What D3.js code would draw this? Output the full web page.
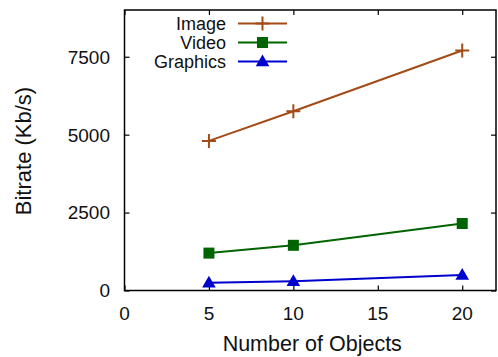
<!DOCTYPE html>
<html>
<head>
<meta charset="utf-8">
<script src="https://cdn.jsdelivr.net/npm/d3@7"></script>
<style>
  html, body { margin: 0; padding: 0; background: #fff; }
  svg { display: block; font-family: "Liberation Sans", Arial, sans-serif; }
</style>
</head>
<body>
<svg id="chart" width="498" height="357"></svg>
<script>
// Bitrate by number of objects, one series per content type
const objects = [5, 10, 20];
const imageRate = [4800, 5750, 7700];
const videoRate = [1200, 1450, 2150];
const graphicsRate = [250, 300, 500];
const xTicks = [0, 5, 10, 15, 20];
const yTicks = [0, 2500, 5000, 7500];
const seriesNames = ["Image", "Video", "Graphics"];

const series = [
  { name: seriesNames[0], values: imageRate, color: "#a44a16", marker: "plus" },
  { name: seriesNames[1], values: videoRate, color: "#006400", marker: "square" },
  { name: seriesNames[2], values: graphicsRate, color: "#0000cc", marker: "triangle" }
];

const svg = d3.select("#chart");
const m = { left: 124.5, right: 496, top: 10, bottom: 290.5 };

const x = d3.scaleLinear().domain([0, 22]).range([m.left, m.right]);
const y = d3.scaleLinear().domain([0, 9000]).range([m.bottom, m.top]);

// Axes with inward ticks, mirrored on top and right
const tickLen = 5;
svg.append("g").attr("transform", `translate(0,${m.bottom})`)
  .call(d3.axisTop(x).tickValues(xTicks).tickSize(tickLen).tickFormat(""))
  .call(g => g.select(".domain").remove());
svg.append("g").attr("transform", `translate(0,${m.top})`)
  .call(d3.axisBottom(x).tickValues(xTicks).tickSize(tickLen).tickFormat(""))
  .call(g => g.select(".domain").remove());
svg.append("g").attr("transform", `translate(${m.left},0)`)
  .call(d3.axisRight(y).tickValues(yTicks).tickSize(tickLen).tickFormat(""))
  .call(g => g.select(".domain").remove());
svg.append("g").attr("transform", `translate(${m.right},0)`)
  .call(d3.axisLeft(y).tickValues(yTicks).tickSize(tickLen).tickFormat(""))
  .call(g => g.select(".domain").remove());
svg.selectAll(".tick line").attr("stroke", "#000").attr("stroke-width", 1.2);

// Tick labels
svg.append("g").selectAll("text").data(xTicks).join("text")
  .attr("x", d => x(d)).attr("y", 320)
  .attr("text-anchor", "middle").attr("font-size", 19).attr("fill", "#111")
  .text(d => d);
svg.append("g").selectAll("text").data(yTicks).join("text")
  .attr("x", 110).attr("y", d => y(d)).attr("dy", "0.36em")
  .attr("text-anchor", "end").attr("font-size", 19).attr("fill", "#111")
  .text(d => d);

// Plot frame
svg.append("rect")
  .attr("x", m.left).attr("y", m.top)
  .attr("width", m.right - m.left).attr("height", m.bottom - m.top)
  .attr("fill", "none").attr("stroke", "#000").attr("stroke-width", 1.5);

// Axis titles
svg.append("text")
  .attr("x", (m.left + m.right) / 2 + 2).attr("y", 351)
  .attr("text-anchor", "middle").attr("font-size", 21.5).attr("fill", "#111")
  .text("Number of Objects");
svg.append("text")
  .attr("transform", `translate(30.5,151) rotate(-90)`)
  .attr("text-anchor", "middle").attr("font-size", 22).attr("fill", "#111")
  .text("Bitrate (Kb/s)");

function drawMarker(g, type, cx, cy, color) {
  if (type === "plus") {
    g.append("path")
      .attr("d", `M${cx - 7},${cy}H${cx + 7}M${cx},${cy - 7}V${cy + 7}`)
      .attr("stroke", color).attr("stroke-width", 2).attr("fill", "none");
  } else if (type === "square") {
    g.append("rect")
      .attr("x", cx - 5.5).attr("y", cy - 5.5).attr("width", 11).attr("height", 11)
      .attr("fill", color);
  } else {
    g.append("path")
      .attr("d", `M${cx},${cy - 7}L${cx + 6.8},${cy + 4.8}L${cx - 6.8},${cy + 4.8}Z`)
      .attr("fill", color);
  }
}

// Series lines and markers
const line = d3.line().x(d => x(d[0])).y(d => y(d[1]));
series.forEach(s => {
  const pts = objects.map((o, i) => [o, s.values[i]]);
  const g = svg.append("g");
  g.append("path").datum(pts).attr("d", line)
    .attr("fill", "none").attr("stroke", s.color).attr("stroke-width", 2);
  pts.forEach(p => drawMarker(g, s.marker, x(p[0]), y(p[1]), s.color));
});

// Legend
const legendRows = [23.5, 42.5, 61.5];
series.forEach((s, i) => {
  const g = svg.append("g");
  const ly = legendRows[i];
  g.append("text").attr("x", 226).attr("y", ly).attr("dy", "0.36em")
    .attr("text-anchor", "end").attr("font-size", 18).attr("fill", "#111")
    .text(s.name);
  g.append("line").attr("x1", 238).attr("x2", 287).attr("y1", ly).attr("y2", ly)
    .attr("stroke", s.color).attr("stroke-width", 2);
  drawMarker(g, s.marker, 262.5, ly, s.color);
});
</script>
</body>
</html>
